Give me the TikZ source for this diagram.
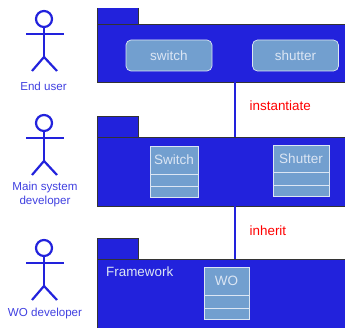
\documentclass[tikz,border=0pt]{standalone}
\usepackage{fontspec}
\setmainfont{Liberation Sans}
\definecolor{umlblue}{HTML}{2222DC}
\definecolor{boxblue}{HTML}{729FCF}
\definecolor{paletext}{HTML}{DCE6F4}
\definecolor{actortext}{HTML}{4040E0}
\tikzset{
  pkgbody/.style={fill=umlblue,draw=black!80,line width=0.8pt,anchor=north west,inner sep=0pt,outer sep=0pt},
  pkgtab/.style={pkgbody,minimum width=41pt},
  usecase/.style={fill=boxblue,draw=paletext,line width=0.7pt,rounded corners=5pt,minimum width=86pt,minimum height=31pt,
    inner sep=0pt,text=paletext,font=\fontsize{13.5}{15}\selectfont},
  classcell/.style={fill=boxblue,draw=paletext,line width=0.8pt,anchor=north west,inner sep=0pt,outer sep=0pt,
    text=paletext,font=\fontsize{13.5}{15}\selectfont},
  actor/.style={umlblue,line width=2.2pt},
  actorlabel/.style={text=actortext,align=center,font=\fontsize{11.6}{14}\selectfont},
  link/.style={umlblue,line width=2.4pt},
  linklabel/.style={text=red,anchor=west,inner sep=0pt,font=\fontsize{13.4}{15}\selectfont}
}
\begin{document}
\begin{tikzpicture}[x=1pt,y=-1pt]
\useasboundingbox (0,0) rectangle (345,328);
% ACTORS
\foreach \y in {0,104,229}{
  \draw [actor] (44,19+\y) circle (8);
  \draw [actor] (44,27+\y) -- (44,57+\y);
  \draw [actor] (26,34+\y) -- (64,34+\y);
  \draw [actor] (32,71+\y) -- (44,57+\y) -- (57,71+\y);
}
\node [actorlabel] (enduser) at (43.5,86) {End user};
\node [actorlabel] (maindev) at (45,195) {Main system\\developer};
\node [actorlabel] (wodev) at (45,314) {WO developer};
% PACKAGES
\node [pkgbody,fill=umlblue,draw=none,minimum width=41pt,minimum height=17pt] (tabA) at (97,8) {};
\draw [black!80,line width=0.8pt] (tabA.north west) -- (tabA.south west) (tabA.north east) -- (tabA.south east);
\node [pkgbody,minimum width=252pt,minimum height=58pt] (bodyA) at (97,24) {};
\node [pkgtab,minimum height=21pt] (tabB) at (97,116) {};
\node [pkgbody,minimum width=252pt,minimum height=69pt] (bodyB) at (97,137) {};
\node [pkgtab,minimum height=21pt] (tabC) at (97,238.5) {};
\node [pkgbody,minimum width=252pt,minimum height=75pt] (bodyC) at (97,259) {};
\node [anchor=west,text=paletext,font=\fontsize{13.4}{15}\selectfont,inner sep=0pt] (framework) at (106,272) {Framework};
% USE CASES
\node [usecase] (switch) at (169,55.5) {switch};
\node [usecase] (shutter) at (295.5,55.5) {shutter};
% CLASSES
\node [classcell,minimum width=48pt,minimum height=28pt] (classA) at (150,146) {Switch};
\node [classcell,minimum width=48pt,minimum height=12pt] (classAb) at (classA.south west) {};
\node [classcell,minimum width=48pt,minimum height=11pt] (classAc) at (classAb.south west) {};
\node [classcell,minimum width=56pt,minimum height=27pt] (classB) at (273,145) {Shutter};
\node [classcell,minimum width=56pt,minimum height=13pt] (classBb) at (classB.south west) {};
\node [classcell,minimum width=56pt,minimum height=11pt] (classBc) at (classBb.south west) {};
\node [classcell,minimum width=45pt,minimum height=28pt] (classC) at (204,267) {WO};
\node [classcell,minimum width=45pt,minimum height=13pt] (classCb) at (classC.south west) {};
\node [classcell,minimum width=45pt,minimum height=11pt] (classCc) at (classCb.south west) {};
% LINKS
\coordinate (linkx) at (235,0);
\draw [link] (bodyA.south -| linkx) -- (bodyB.north -| linkx);
\draw [link] (bodyB.south -| linkx) -- (bodyC.north -| linkx);
\node [linklabel] (instantiate) at (249.5,106) {instantiate};
\node [linklabel] (inherit) at (249.5,230.5) {inherit};
\end{tikzpicture}
\end{document}
